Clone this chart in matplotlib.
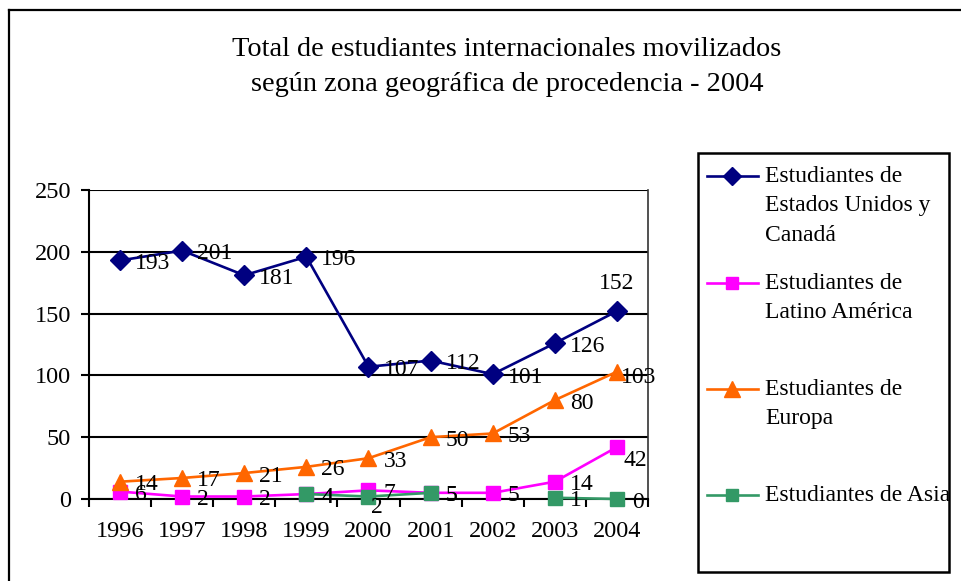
import numpy as np
import matplotlib.pyplot as plt
from matplotlib.lines import Line2D
from matplotlib.patches import Rectangle

# Data
years = ["1996", "1997", "1998", "1999", "2000", "2001", "2002", "2003", "2004"]
eeuu = [193, 201, 181, 196, 107, 112, 101, 126, 152]
latino = [6, 2, 2, 4, 7, 5, 5, 14, 42]
europa = [14, 17, 21, 26, 33, 50, 53, 80, 103]
asia = [np.nan, np.nan, np.nan, 4, 2, 5, np.nan, 1, 0]

series = [
    ("Estudiantes de\nEstados Unidos y\nCanadá", eeuu, "#000080", "D", 10),
    ("Estudiantes de\nLatino América", latino, "#FF00FF", "s", 10),
    ("Estudiantes de\nEuropa", europa, "#FF6600", "^", 12),
    ("Estudiantes de Asia", asia, "#339966", "s", 10),
]

# label offsets in pixels (dx, dy, ha) where Excel moved the label
label_fix = {
    (0, 8): (0, 28, "center"),
    (1, 8): (7, -13, "left"),
    (2, 8): (4, -6, "left"),
    (3, 4): (3, -11, "left"),
}

plt.rcParams['font.family'] = ['Liberation Serif', 'DejaVu Serif']

W, H = 962, 581
fig = plt.figure(figsize=(W / 100, H / 100), dpi=100)
ax = fig.add_axes([89 / W, 1 - 499 / H, (648 - 89) / W, (499 - 190) / H])

x = np.arange(len(years))
px = 72 / 100  # pixels -> points

for i, (name, vals, col, mk, ms) in enumerate(series):
    ax.plot(x, vals, color=col, lw=1.9, marker=mk, markersize=ms,
            markeredgecolor=col, zorder=3 + i, clip_on=False)

for i, (name, vals, col, mk, ms) in enumerate(series):
    for j, v in enumerate(vals):
        if np.isnan(v):
            continue
        dx, dy, ha = label_fix.get((i, j), (15, -3, "left"))
        ax.annotate(f"{int(v)}", (x[j], v), xytext=(dx * px, dy * px),
                    textcoords="offset points", ha=ha, va="center",
                    fontsize=17, color="black", zorder=10,
                    annotation_clip=False)

ax.set_xlim(-0.5, len(years) - 0.5)
ax.set_ylim(0, 250)
ax.set_yticks(np.arange(0, 251, 50))
ax.set_xticks(x)
ax.set_xticklabels(years)
ax.set_xticks(np.arange(-0.5, len(years), 1), minor=True)
ax.tick_params(axis="x", which="major", length=0, pad=16, labelsize=17.5)
ax.tick_params(axis="x", which="minor", length=6, width=1.5, direction="out")
ax.tick_params(axis="y", length=6, width=1.5, direction="out", pad=7,
               labelsize=17.5)
ax.grid(axis="y", color="black", lw=1.5)
ax.set_axisbelow(True)
for s in ax.spines.values():
    s.set_linewidth(1.5)
    s.set_color("black")
ax.spines["top"].set_visible(False)
ax.spines["right"].set_linewidth(1.2)
ax.spines["right"].set_color("#333333")

# title
fig.text(507 / W, 1 - 67 / H,
         "Total de estudiantes internacionales movilizados\n"
         "según zona geográfica de procedencia - 2004",
         ha="center", va="center", fontsize=20.4, linespacing=1.55)

# outer chart border (runs off the right and bottom edges)
fig.add_artist(Line2D([9 / W, 9 / W], [0, 1 - 10 / H], transform=fig.transFigure,
                      color="black", lw=1.6))
fig.add_artist(Line2D([9 / W, 1], [1 - 10 / H, 1 - 10 / H],
                      transform=fig.transFigure, color="black", lw=1.6))

# legend box
fig.add_artist(Rectangle((698 / W, 1 - 572 / H), (949 - 698) / W, (572 - 153) / H,
                         transform=fig.transFigure, fill=False,
                         edgecolor="black", lw=1.8))
entry_y = [176, 283, 389, 495]
for (name, vals, col, mk, ms), ey in zip(series, entry_y):
    yy = 1 - ey / H
    fig.add_artist(Line2D([707 / W, 758 / W], [yy, yy], transform=fig.transFigure,
                          color=col, lw=1.9))
    fig.add_artist(Line2D([732.5 / W], [yy], transform=fig.transFigure,
                          color=col, marker=mk, markersize=ms - 1,
                          markeredgecolor=col))
    fig.text(765 / W, yy + 10 / H, name, ha="left", va="top", fontsize=17,
             linespacing=1.52)

fig.savefig("out.png", dpi=100)
